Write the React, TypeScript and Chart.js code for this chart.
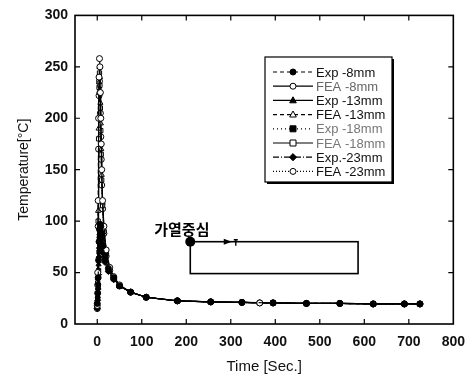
import React, { useEffect, useRef } from 'react';
import { Chart, registerables } from 'chart.js';

Chart.register(...registerables);

// ---------- data ----------
const xTickValues = [0, 100, 200, 300, 400, 500, 600, 700, 800];
const yTickValues = [0, 50, 100, 150, 200, 250, 300];

const seriesLabels = ['Exp -8mm', 'FEA -8mm', 'Exp -13mm', 'FEA -13mm', 'Exp -18mm', 'FEA -18mm', 'Exp.-23mm', 'FEA -23mm'];

const expTime = [0, 1, 2, 3, 4, 5, 6, 8, 10, 13, 17, 25, 37, 50, 75, 110, 180, 255, 325, 395, 470, 545, 620, 690, 725];
const feaTime = [0, 1, 2, 3, 4, 5, 6, 7, 8, 9, 10, 12, 15, 20, 28, 37, 50, 75, 110, 180, 255, 325, 365, 395, 470, 545, 620, 690, 725];

const exp8Temp = [20, 30, 45, 62, 80, 92, 97, 95, 88, 76, 66, 54, 45, 37, 31, 26, 22.5, 21.5, 21, 20.5, 20, 20, 19.5, 19.5, 19.5];
const fea8Temp = [18, 50, 120, 200, 240, 258, 250, 225, 200, 175, 150, 120, 95, 72, 55, 46, 38, 31, 26, 22.5, 21.5, 21, 20.5, 20.5, 20, 20, 19.5, 19.5, 19.5];
const exp13Temp = [17, 27, 40, 58, 75, 88, 92, 90, 84, 74, 64, 53, 44, 37, 31, 26, 22.5, 21.5, 21, 20.5, 20, 20, 19.5, 19.5, 19.5];
const fea13Temp = [17, 45, 110, 190, 235, 250, 240, 215, 195, 170, 145, 118, 92, 70, 54, 45, 37, 31, 26, 22.5, 21.5, 21, 20.5, 20.5, 20, 20, 19.5, 19.5, 19.5];
const exp18Temp = [16, 25, 37, 52, 70, 84, 88, 86, 80, 71, 62, 52, 44, 37, 31, 26, 22.5, 21.5, 21, 20.5, 20, 20, 19.5, 19.5, 19.5];
const fea18Temp = [16, 40, 100, 180, 230, 244, 232, 210, 188, 165, 140, 115, 90, 68, 53, 45, 37, 31, 26, 22.5, 21.5, 21, 20.5, 20.5, 20, 20, 19.5, 19.5, 19.5];
const exp23Temp = [15, 23, 34, 48, 65, 80, 84, 83, 77, 69, 60, 51, 43, 37, 31, 26, 22.5, 21.5, 21, 20.5, 20, 20, 19.5, 19.5, 19.5];
const fea23Temp = [15, 38, 95, 170, 222, 236, 225, 205, 182, 160, 135, 112, 88, 66, 52, 44, 37, 31, 26, 22.5, 21.5, 21, 20.5, 20.5, 20, 20, 19.5, 19.5, 19.5];

// annotation (data units)
const annotationText = '가열중심';
const annotationTextPos = [128, 87];
const heatCenter = [209, 80];
const boxCorner = [586, 49];
const arrowAt = 300;

const FONT = '"Liberation Sans", Arial, sans-serif';

type Style = { pointStyle: string; filled: boolean; dash: number[]; textColor: string };
const styles: Style[] = [
  { pointStyle: 'circle', filled: true, dash: [4, 3], textColor: '#111' },
  { pointStyle: 'circle', filled: false, dash: [], textColor: '#666' },
  { pointStyle: 'triangle', filled: true, dash: [], textColor: '#111' },
  { pointStyle: 'triangle', filled: false, dash: [4, 3], textColor: '#111' },
  { pointStyle: 'rect', filled: true, dash: [1, 3], textColor: '#777' },
  { pointStyle: 'rect', filled: false, dash: [], textColor: '#777' },
  { pointStyle: 'rectRot', filled: true, dash: [6, 2, 1, 2], textColor: '#111' },
  { pointStyle: 'circle', filled: false, dash: [1, 2], textColor: '#111' },
];

const seriesTimes = [expTime, feaTime, expTime, feaTime, expTime, feaTime, expTime, feaTime];
const seriesTemps = [exp8Temp, fea8Temp, exp13Temp, fea13Temp, exp18Temp, fea18Temp, exp23Temp, fea23Temp];

function drawMarker(ctx: CanvasRenderingContext2D, style: string, filled: boolean, x: number, y: number, r: number) {
  ctx.beginPath();
  if (style === 'circle') {
    ctx.arc(x, y, r, 0, Math.PI * 2);
  } else if (style === 'triangle') {
    ctx.moveTo(x, y - r * 1.2);
    ctx.lineTo(x + r * 1.1, y + r * 0.8);
    ctx.lineTo(x - r * 1.1, y + r * 0.8);
    ctx.closePath();
  } else if (style === 'rect') {
    ctx.rect(x - r, y - r, r * 2, r * 2);
  } else {
    ctx.moveTo(x, y - r * 1.2);
    ctx.lineTo(x + r * 1.2, y);
    ctx.lineTo(x, y + r * 1.2);
    ctx.lineTo(x - r * 1.2, y);
    ctx.closePath();
  }
  ctx.fillStyle = filled ? '#000' : '#fff';
  ctx.fill();
  ctx.strokeStyle = '#000';
  ctx.lineWidth = 1;
  ctx.stroke();
}

const framePlugin = {
  id: 'frame',
  afterDatasetsDraw(chart: any) {
    const { ctx, chartArea: a, scales } = chart;
    ctx.save();
    ctx.strokeStyle = '#000';
    ctx.lineWidth = 1.6;
    ctx.strokeRect(a.left, a.top, a.right - a.left, a.bottom - a.top);
    ctx.lineWidth = 1.2;
    ctx.beginPath();
    xTickValues.forEach((v) => {
      const px = scales.x.getPixelForValue(v);
      if (px <= a.left + 1 || px >= a.right - 1) return;
      ctx.moveTo(px, a.bottom);
      ctx.lineTo(px, a.bottom - 5);
      ctx.moveTo(px, a.top);
      ctx.lineTo(px, a.top + 5);
    });
    yTickValues.forEach((v) => {
      const py = scales.y.getPixelForValue(v);
      if (py <= a.top + 1 || py >= a.bottom - 1) return;
      ctx.moveTo(a.left, py);
      ctx.lineTo(a.left + 5, py);
      ctx.moveTo(a.right, py);
      ctx.lineTo(a.right - 5, py);
    });
    ctx.stroke();
    ctx.restore();
  },
};

const annotationPlugin = {
  id: 'heatAnnotation',
  afterDatasetsDraw(chart: any) {
    const { ctx, scales } = chart;
    const x = scales.x, y = scales.y;
    ctx.save();
    const cx = x.getPixelForValue(heatCenter[0]);
    const cy = y.getPixelForValue(heatCenter[1]);
    const bx = x.getPixelForValue(boxCorner[0]);
    const by = y.getPixelForValue(boxCorner[1]);
    ctx.strokeStyle = '#000';
    ctx.lineWidth = 1.6;
    ctx.strokeRect(cx, cy, bx - cx, by - cy);
    ctx.beginPath();
    ctx.arc(cx, cy, 5, 0, Math.PI * 2);
    ctx.fillStyle = '#000';
    ctx.fill();
    const ax = x.getPixelForValue(arrowAt);
    ctx.beginPath();
    ctx.moveTo(ax - 7, cy - 3);
    ctx.lineTo(ax + 1, cy);
    ctx.lineTo(ax - 7, cy + 3);
    ctx.closePath();
    ctx.fill();
    ctx.beginPath();
    ctx.moveTo(ax + 3, cy - 2);
    ctx.lineTo(ax + 7, cy - 2);
    ctx.moveTo(ax + 5, cy - 2);
    ctx.lineTo(ax + 5, cy + 4);
    ctx.lineWidth = 1.4;
    ctx.stroke();
    ctx.font = 'bold 15px "Noto Sans CJK KR", sans-serif';
    ctx.textBaseline = 'alphabetic';
    ctx.textAlign = 'left';
    ctx.fillText(annotationText, x.getPixelForValue(annotationTextPos[0]), y.getPixelForValue(annotationTextPos[1]));
    ctx.restore();
  },
};

const legendPlugin = {
  id: 'boxLegend',
  afterDraw(chart: any) {
    const { ctx } = chart;
    const x0 = 265, y0 = 57, w = 127, h = 125;
    ctx.save();
    ctx.fillStyle = '#000';
    ctx.fillRect(x0 + 2, y0 + 2, w, h);
    ctx.fillStyle = '#fff';
    ctx.fillRect(x0, y0, w, h);
    ctx.strokeStyle = '#000';
    ctx.lineWidth = 1.2;
    ctx.strokeRect(x0, y0, w, h);
    ctx.font = '13px ' + FONT;
    ctx.textBaseline = 'middle';
    ctx.textAlign = 'left';
    seriesLabels.forEach((label, i) => {
      const st = styles[i];
      const cy = y0 + 15 + i * 14.2;
      ctx.strokeStyle = '#000';
      ctx.lineWidth = 1.2;
      ctx.setLineDash(st.dash);
      ctx.beginPath();
      ctx.moveTo(x0 + 8, cy);
      ctx.lineTo(x0 + 48, cy);
      ctx.stroke();
      ctx.setLineDash([]);
      drawMarker(ctx, st.pointStyle, st.filled, x0 + 28, cy, 3);
      ctx.fillStyle = st.textColor;
      ctx.fillText(label, x0 + 51, cy + 1);
    });
    ctx.restore();
  },
};

export default function App() {
  const ref = useRef<HTMLCanvasElement | null>(null);
  useEffect(() => {
    document.body.style.margin = '0';
    const canvas = ref.current;
    if (!canvas) return;
    const datasets = seriesLabels.map((label, i) => ({
      label,
      data: seriesTimes[i].map((t, k) => ({ x: t, y: seriesTemps[i][k] })),
      borderColor: '#000',
      borderWidth: 1.2,
      borderDash: styles[i].dash,
      pointStyle: styles[i].pointStyle,
      pointRadius: 3,
      pointBorderWidth: 1,
      pointBorderColor: '#000',
      pointBackgroundColor: styles[i].filled ? '#000' : '#fff',
      fill: false,
      tension: 0,
    }));
    const chart = new Chart(canvas, {
      type: 'line',
      data: { datasets },
      options: {
        animation: false,
        responsive: false,
        devicePixelRatio: 1,
        layout: { padding: { top: 13, right: 13, left: 0, bottom: 0 } },
        plugins: { legend: { display: false }, tooltip: { enabled: false } },
        scales: {
          x: {
            type: 'linear',
            min: -50,
            max: 800,
            afterFit: (s: any) => { s.height = 59; },
            afterBuildTicks: (s: any) => { s.ticks = xTickValues.map((v) => ({ value: v })); },
            grid: { display: false, drawTicks: false },
            border: { display: false },
            ticks: { color: '#111', padding: 10, font: { family: FONT, size: 14, weight: 'bold' } },
            title: { display: true, text: 'Time [Sec.]', color: '#111', font: { family: FONT, size: 15 }, padding: { top: 0, bottom: 7 } },
          },
          y: {
            type: 'linear',
            min: 0,
            max: 300,
            afterFit: (s: any) => { s.width = 75; },
            afterBuildTicks: (s: any) => { s.ticks = yTickValues.map((v) => ({ value: v })); },
            grid: { display: false, drawTicks: false },
            border: { display: false },
            ticks: { color: '#111', padding: 7, font: { family: FONT, size: 14, weight: 'bold' } },
            title: { display: true, text: 'Temperature[°C]', color: '#111', font: { family: FONT, size: 14 }, padding: { top: 16, bottom: 0 } },
          },
        },
      },
      plugins: [framePlugin, annotationPlugin, legendPlugin],
    } as any);
    return () => chart.destroy();
  }, []);
  return (
    <div style={{ position: 'absolute', left: 0, top: 0, width: 475, height: 383, background: '#fff' }}>
      <canvas ref={ref} width={475} height={383} style={{ width: 475, height: 383, display: 'block' }} />
    </div>
  );
}
